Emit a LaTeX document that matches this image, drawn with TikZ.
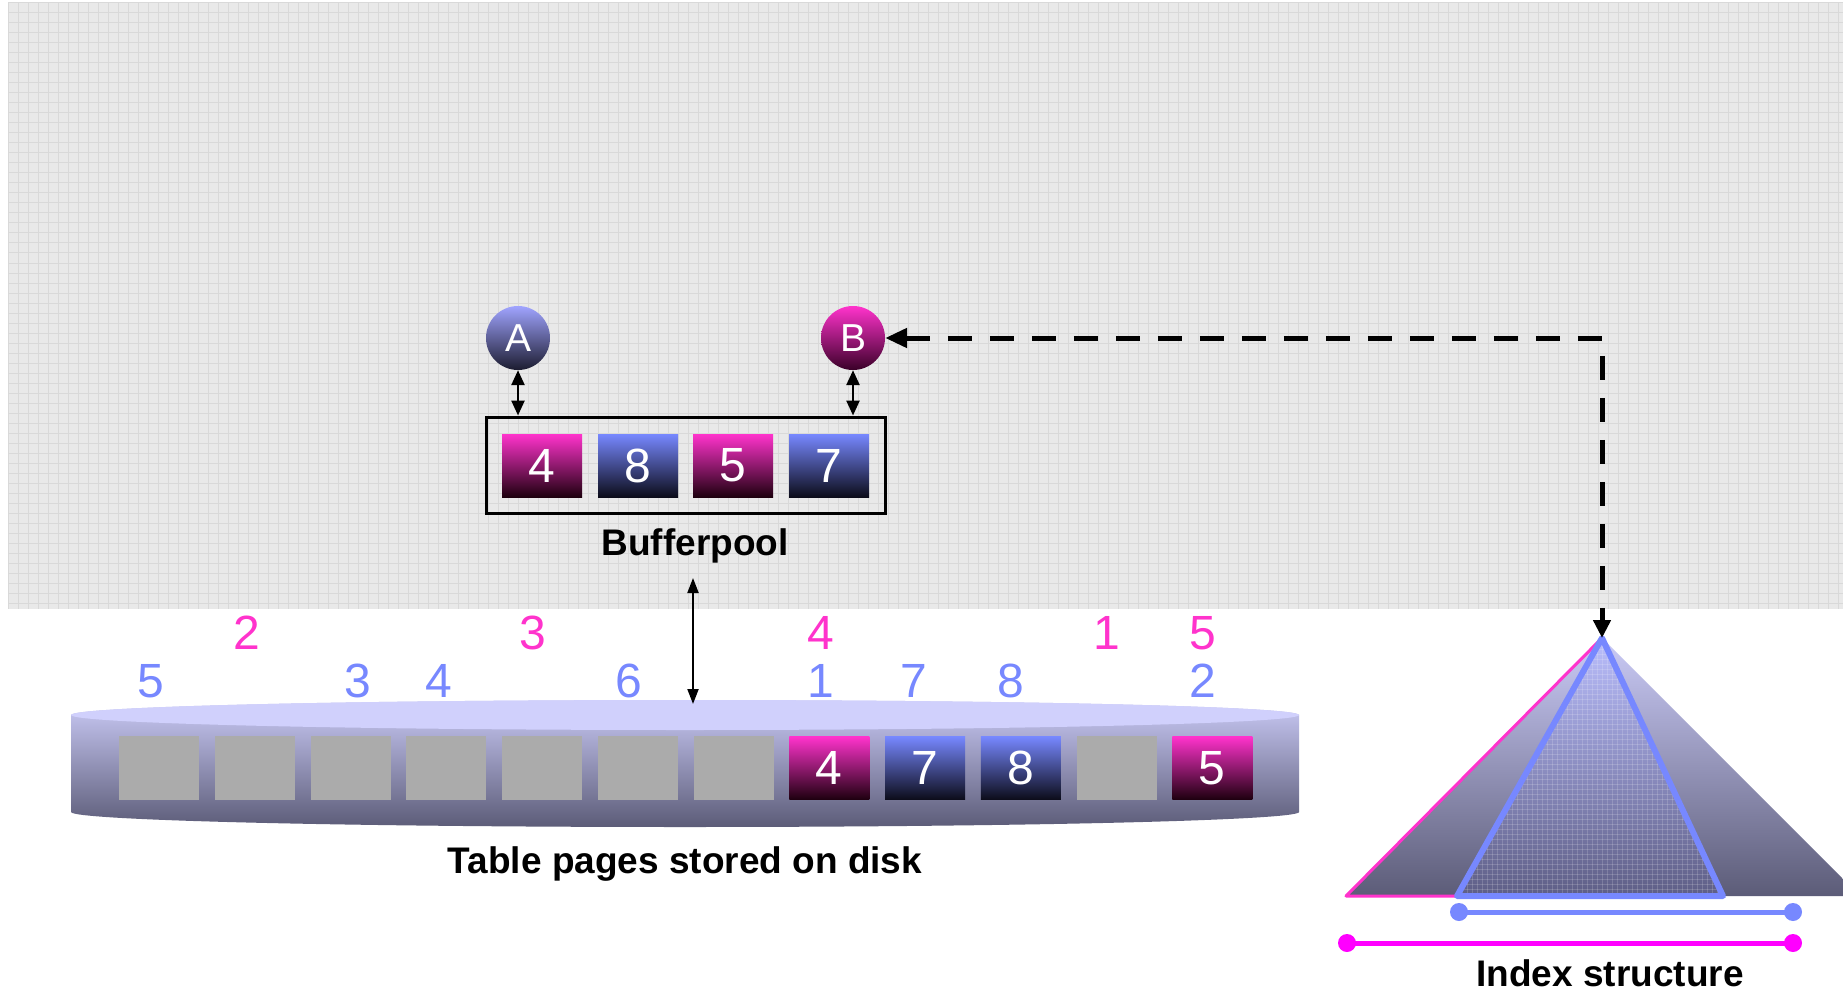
\documentclass[tikz,border=0pt]{standalone}
\usepackage{fontspec}
\setmainfont{Liberation Sans}
\usetikzlibrary{arrows.meta}

\definecolor{bggray}{HTML}{E9E9E9}
\definecolor{bgline}{HTML}{D9D9D9}
\definecolor{hot}{HTML}{FF33CC}
\definecolor{hotdark}{HTML}{1E000F}
\definecolor{cool}{HTML}{7788FF}
\definecolor{cooldark}{HTML}{0C0C1A}
\definecolor{lav}{HTML}{CBCBF7}
\definecolor{laventop}{HTML}{D0D0FC}
\definecolor{slate}{HTML}{5C5C78}
\definecolor{magline}{HTML}{FF00FF}
\definecolor{pagegray}{HTML}{ABABAB}
\definecolor{actortop}{HTML}{A0A4FF}
\definecolor{actorbot}{HTML}{1C1C30}
\definecolor{hotbot}{HTML}{3A0028}
\definecolor{meshtop}{HTML}{BABEFC}
\definecolor{meshbot}{HTML}{5E5E86}

\tikzset{
  digitfont/.style={font=\fontsize{48}{48}\selectfont},
  hotpage/.style={digitfont, minimum width=80pt, minimum height=63pt, inner sep=0pt,
    top color=hot, bottom color=hotdark, text=white},
  coolpage/.style={digitfont, minimum width=80pt, minimum height=63pt, inner sep=0pt,
    top color=cool, bottom color=cooldark, text=white},
  emptypage/.style={minimum width=80pt, minimum height=64pt, inner sep=0pt, fill=pagegray},
  hotnum/.style={digitfont, inner sep=0pt, text=hot},
  coolnum/.style={digitfont, inner sep=0pt, text=cool},
  caption/.style={font=\fontsize{37}{37}\selectfont\bfseries, anchor=base, inner sep=0pt},
  actor/.style={circle, minimum size=64pt, inner sep=0pt, text=white,
    font=\fontsize{39}{39}\selectfont},
  shortlink/.style={line width=2.5pt,
    {Triangle[length=15pt,width=13pt]}-{Triangle[length=15pt,width=13pt]}},
  disklink/.style={line width=2pt,
    {Triangle[length=15pt,width=11pt]}-{Triangle[length=15pt,width=11pt]}},
  indexlink/.style={line width=5pt, dash pattern=on 24pt off 18pt,
    {Triangle[length=22pt,width=19pt]}-{Triangle[length=18pt,width=17pt]}},
  rangeline/.style={line width=5pt},
}

\begin{document}
\begin{tikzpicture}[x=1pt,y=-1pt]
\useasboundingbox (0,0) rectangle (1843,992);
\clip (0,0) rectangle (1843,992);
\fill[white] (0,0) rectangle (1843,992);

% memory area: light gray meshed panel
\fill[bggray] (8,3) rectangle (1843,609);
\foreach \x in {8,18,...,1838} \draw[bgline, line width=1pt] (\x,3) -- (\x,609);
\foreach \y in {3,13,...,603} \draw[bgline, line width=1pt] (8,\y) -- (1843,\y);

% ---------- disk ----------
\shade[top color=lav, bottom color=slate]
  (71,715) -- (71,812)
  arc[start angle=180, end angle=0, x radius=614, y radius=15]
  -- (1299,715)
  arc[start angle=0, end angle=-180, x radius=614, y radius=15] -- cycle;
\fill[laventop] (685,715) ellipse [x radius=614, y radius=15];

\foreach \i/\kind/\txt in {0/emptypage/,1/emptypage/,2/emptypage/,3/emptypage/,
    4/emptypage/,5/emptypage/,6/emptypage/,7/hotpage/4,8/coolpage/7,9/coolpage/8,
    10/emptypage/,11/hotpage/5}
  \node[\kind] (p\i) at ({159+95.75*\i},768) {\txt};

% row numbers above the disk pages
\node[hotnum] (h2) at (247,633) {2};
\node[hotnum] (h3) at (533,633) {3};
\node[hotnum] (h4) at (821,633) {4};
\node[hotnum] (h1) at (1107,633) {1};
\node[hotnum] (h5) at (1203,633) {5};
\node[coolnum] (c5) at (151,681) {5};
\node[coolnum] (c3) at (358,681) {3};
\node[coolnum] (c4) at (439,681) {4};
\node[coolnum] (c6) at (629,681) {6};
\node[coolnum] (c1) at (821,681) {1};
\node[coolnum] (c7) at (914,681) {7};
\node[coolnum] (c8) at (1011,681) {8};
\node[coolnum] (c2) at (1203,681) {2};

\node[caption] (disklabel) at (685,873) {Table pages stored on disk};

% ---------- bufferpool ----------
\node[draw=black, line width=3pt, minimum width=399pt, minimum height=96pt, inner sep=0pt]
  (pool) at (685.5,465) {};
\node[hotpage]  (b1) at (542,465.5) {4};
\node[coolpage] (b2) at (638,465.5) {8};
\node[hotpage]  (b3) at (733,465.5) {5};
\node[coolpage] (b4) at (829,465.5) {7};
\node[caption] (poollabel) at (695,555) {Bufferpool};

\node[actor, top color=actortop, bottom color=actorbot] (A) at (518,338) {A};
\node[actor, top color=hot, bottom color=hotbot] (B) at (853,338) {B};

\draw[shortlink] (A.south) -- (A.south |- pool.north);
\draw[shortlink] (B.south) -- (B.south |- pool.north);

\coordinate (pooldown) at (693,578);
\coordinate (disktop) at (693,704);
\draw[disklink] (pooldown) -- (disktop);

% ---------- index structure ----------
\coordinate (apex) at (1602,638);
\coordinate (outerL) at (1346,896);
\coordinate (outerR) at (1860,896);
\coordinate (innerL) at (1457,896);
\coordinate (innerR) at (1723,896);

\shade[top color=lav, bottom color=slate] (apex) -- (outerL) -- (outerR) -- cycle;
\draw[hot, line width=3pt, line join=round, line cap=round]
  (apex) -- (outerL) -- (1547,896);

\shade[top color=meshtop, bottom color=meshbot] (apex) -- (innerL) -- (innerR) -- cycle;
\begin{scope}
  \clip (apex) -- (innerL) -- (innerR) -- cycle;
  \foreach \x in {1452,1457,...,1728}
    \draw[white, opacity=0.16, line width=0.8pt] (\x,630) -- (\x,900);
  \foreach \y in {634,639,...,900}
    \draw[white, opacity=0.16, line width=0.8pt] (1450,\y) -- (1730,\y);
\end{scope}
\draw[cool, line width=6pt, line join=round] (apex) -- (innerL) -- (innerR) -- cycle;

\coordinate (coolL) at (1459,912);
\coordinate (coolR) at (1793,912);
\coordinate (magL) at (1347,943);
\coordinate (magR) at (1793,943);
\draw[rangeline, cool] (coolL) -- (coolR);
\fill[cool] (coolL) circle[radius=9pt] (coolR) circle[radius=9pt];
\draw[rangeline, magline] (magL) -- (magR);
\fill[magline] (magL) circle[radius=9pt] (magR) circle[radius=9pt];

\node[caption, text depth=0pt] (indexlabel) at (1610,986) {Index structure};

% lookup path from the index to process B
\draw[indexlink] (B.east) -| (apex);
\end{tikzpicture}
\end{document}
